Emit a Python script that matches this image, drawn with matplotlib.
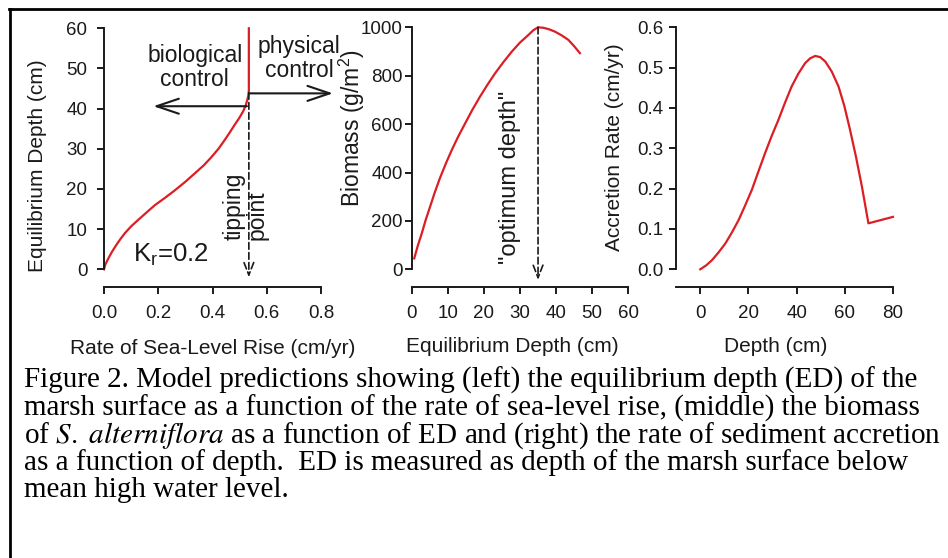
"""Marsh model predictions: equilibrium depth, biomass and accretion rate."""
import matplotlib
matplotlib.use("Agg")
import matplotlib.pyplot as plt
from matplotlib.lines import Line2D

plt.rcParams["font.family"] = ["Liberation Sans", "DejaVu Sans"]
plt.rcParams["mathtext.fontset"] = "custom"
plt.rcParams["mathtext.rm"] = "Liberation Sans"
plt.rcParams["mathtext.it"] = "Liberation Sans:italic"

# %%
# data
slr_rate = [0, 0.005, 0.016, 0.028, 0.041, 0.058, 0.077, 0.1, 0.126, 0.156,
            0.188, 0.225, 0.262, 0.3, 0.335, 0.368, 0.397, 0.422, 0.443, 0.463,
            0.481, 0.498, 0.512, 0.522, 0.528, 0.532, 0.534, 0.534]
eq_depth = [0, 1.2, 2.7, 4.2, 5.6, 7.3, 9.0, 10.7, 12.3, 14.1,
            16.0, 17.8, 19.7, 21.8, 23.9, 25.9, 28.0, 30.0, 32.0, 34.0,
            35.9, 37.6, 39.2, 40.7, 42.1, 43.3, 44.5, 60]
tipping_rate = 0.534

bm_depth = [0.7, 1.7, 2.8, 3.9, 5.1, 6.4, 7.8, 9.4, 11.1, 12.9, 14.8, 16.8,
            18.9, 21.0, 23.1, 25.4, 27.7, 30.0, 32.3, 33.7, 35.0, 36.5, 38.0,
            39.7, 41.5, 43.4, 45.0, 46.6]
biomass = [45, 98, 149, 205, 259, 318, 376, 435, 493, 549, 603, 659,
           713, 763, 810, 856, 899, 937, 968, 988, 1000, 998, 992,
           982, 967, 948, 922, 893]
optimum_depth = 35

acc_depth = [0, 2.5, 4.9, 7.6, 10.4, 13.1, 15.9, 18.6, 21.4, 24.1, 26.9, 29.6,
             32.4, 35.1, 37.9, 40.7, 43.5, 45.6, 47.7, 49.8, 51.9, 54.6, 57.4,
             59.8, 62.2, 64.7, 67.1, 69.8, 80]
acc_rate = [0, 0.010, 0.023, 0.042, 0.064, 0.091, 0.122, 0.158, 0.197, 0.242,
            0.288, 0.330, 0.370, 0.412, 0.453, 0.485, 0.511, 0.523, 0.529,
            0.526, 0.515, 0.490, 0.453, 0.405, 0.345, 0.277, 0.205, 0.114,
            0.130]

left_xticks = [0.0, 0.2, 0.4, 0.6, 0.8]
left_yticks = [0, 10, 20, 30, 40, 50, 60]
mid_xticks = [0, 10, 20, 30, 40, 50, 60]
mid_yticks = [0, 200, 400, 600, 800, 1000]
right_xticks = [0, 20, 40, 60, 80]
right_yticks = [0.0, 0.1, 0.2, 0.3, 0.4, 0.5, 0.6]

caption = [
    "Figure 2. Model predictions showing (left) the equilibrium depth (ED) of the",
    "marsh surface as a function of the rate of sea-level rise, (middle) the biomass",
    r"of $\mathit{S.\ alterniflora}$ as a function of ED and (right) the rate of sediment accretion",
    "as a function of depth.  ED is measured as depth of the marsh surface below",
    "mean high water level.",
]

# %%
W, H = 948, 558
fig = plt.figure(figsize=(W / 100, H / 100), dpi=100)
RED = "#dc1e24"
INK = "#1a1a1a"


def px_axes(x0, y0, x1, y1):
    return fig.add_axes([x0 / W, 1 - y1 / H, (x1 - x0) / W, (y1 - y0) / H])


def style(ax, xb, yb, ypad):
    for s in ("top", "right"):
        ax.spines[s].set_visible(False)
    ax.spines["bottom"].set_position(("outward", 12.7))
    ax.spines["bottom"].set_bounds(*xb)
    ax.spines["left"].set_bounds(*yb)
    for s in ("bottom", "left"):
        ax.spines[s].set_linewidth(1.4)
        ax.spines[s].set_color(INK)
    ax.tick_params(direction="out", length=5, width=1.4, colors=INK,
                   labelsize=13.5)
    ax.tick_params(axis="x", pad=8)
    ax.tick_params(axis="y", pad=ypad)
    ax.patch.set_alpha(0)


def dashed_arrow(ax, x, y0, y1):
    ax.annotate("", xy=(x, y1), xytext=(x, y0), annotation_clip=False,
                arrowprops=dict(arrowstyle="->,head_length=0.9,head_width=0.35",
                                lw=1.2, ls=(0, (4, 2)), color=INK,
                                shrinkA=0, shrinkB=0, mutation_scale=10))


def solid_arrow(ax, x0, x1, y):
    ax.annotate("", xy=(x1, y), xytext=(x0, y), annotation_clip=False,
                arrowprops=dict(arrowstyle="->,head_length=0.8,head_width=0.27",
                                lw=1.5, color=INK, shrinkA=0, shrinkB=0,
                                mutation_scale=20))


# left: equilibrium depth vs rate of SLR
ax1 = px_axes(104, 28.3, 321, 269.3)
ax1.set_xlim(0, 0.8)
ax1.set_ylim(0, 60)
ax1.plot(slr_rate, eq_depth, color=RED, lw=1.6, clip_on=False)
ax1.set_xticks(left_xticks, [f"{v:.1f}" for v in left_xticks])
ax1.set_yticks(left_yticks)
style(ax1, (0, 0.8), (0, 60), 7)
dashed_arrow(ax1, tipping_rate, 44, -2.0)
solid_arrow(ax1, 0.527, 0.182, 40.6)
solid_arrow(ax1, tipping_rate, 0.844, 43.8)
ax1.text(0.335, 50.2, "biological\ncontrol", ha="center", va="center",
         fontsize=16.5, linespacing=1.05, color=INK)
ax1.text(0.72, 52.5, "physical\ncontrol", ha="center", va="center",
         fontsize=16.5, linespacing=1.05, color=INK, clip_on=False)
ax1.text(0.522, 7.3, "tipping\npoint", rotation=90, ha="center", va="bottom",
         multialignment="left", fontsize=16.5, linespacing=0.95, color=INK)
ax1.text(0.107, 1.8, r"K$_\mathrm{r}$=0.2", ha="left", va="baseline",
         fontsize=18.5, color=INK)

# middle: biomass vs equilibrium depth
ax2 = px_axes(411.7, 27.3, 628.3, 269.3)
ax2.set_xlim(0, 60)
ax2.set_ylim(0, 1000)
ax2.plot(bm_depth, biomass, color=RED, lw=1.6, clip_on=False)
ax2.set_xticks(mid_xticks)
ax2.set_yticks(mid_yticks)
style(ax2, (0, 60), (0, 1000), 1.5)
dashed_arrow(ax2, optimum_depth, 1000, -44)
ax2.text(27.2, 381, '"optimum depth"', rotation=90, ha="center", va="center",
         fontsize=17, color=INK)

# right: accretion rate vs depth
ax3 = px_axes(676.2, 27.3, 893, 269.3)
ax3.set_xlim(-10, 80)
ax3.set_ylim(0, 0.6)
ax3.plot(acc_depth, acc_rate, color=RED, lw=1.6, clip_on=False)
ax3.set_xticks(right_xticks)
ax3.set_yticks(right_yticks, [f"{v:.1f}" for v in right_yticks])
style(ax3, (-10, 80), (0, 0.6), 4)

# axis labels placed in pixel positions
lab = dict(fontsize=15, color=INK, ha="center", va="center")
fig.text(213 / W, 1 - 348 / H, "Rate of Sea-Level Rise (cm/yr)", **lab)
fig.text(512 / W, 1 - 347 / H, "Equilibrium Depth (cm)", **lab)
fig.text(776 / W, 1 - 347 / H, "Depth (cm)", **lab)
fig.text(38 / W, 1 - 166 / H, "Equilibrium Depth (cm)", rotation=90, **lab)
fig.text(614 / W, 1 - 147 / H, "Accretion Rate (cm/yr)", rotation=90, **lab)
fig.text(352 / W, 1 - 128 / H, r"Biomass (g/m$^2$)", rotation=90,
         fontsize=16.5, color=INK, ha="center", va="center")

# caption, sized so the widest line fits the reference width
renderer = fig.canvas.get_renderer()
probe = fig.text(0, 0, caption[2], family="Liberation Serif",
                 math_fontfamily="stix", fontsize=19)
cap_size = 19 * 918 / probe.get_window_extent(renderer).width
probe.remove()
for i, line in enumerate(caption):
    fig.text(24 / W, 1 - (388 + 27.3 * i) / H, line, family="Liberation Serif",
             math_fontfamily="stix", fontsize=cap_size, ha="left",
             va="baseline", color="black")

# frame lines at top and left
fig.add_artist(Line2D([9 / W, 1], [1 - 9 / H, 1 - 9 / H], color="black", lw=2))
fig.add_artist(Line2D([9.5 / W, 9.5 / W], [0, 1 - 9 / H], color="black", lw=2))

fig.savefig("out.png", dpi=100, facecolor="white")
